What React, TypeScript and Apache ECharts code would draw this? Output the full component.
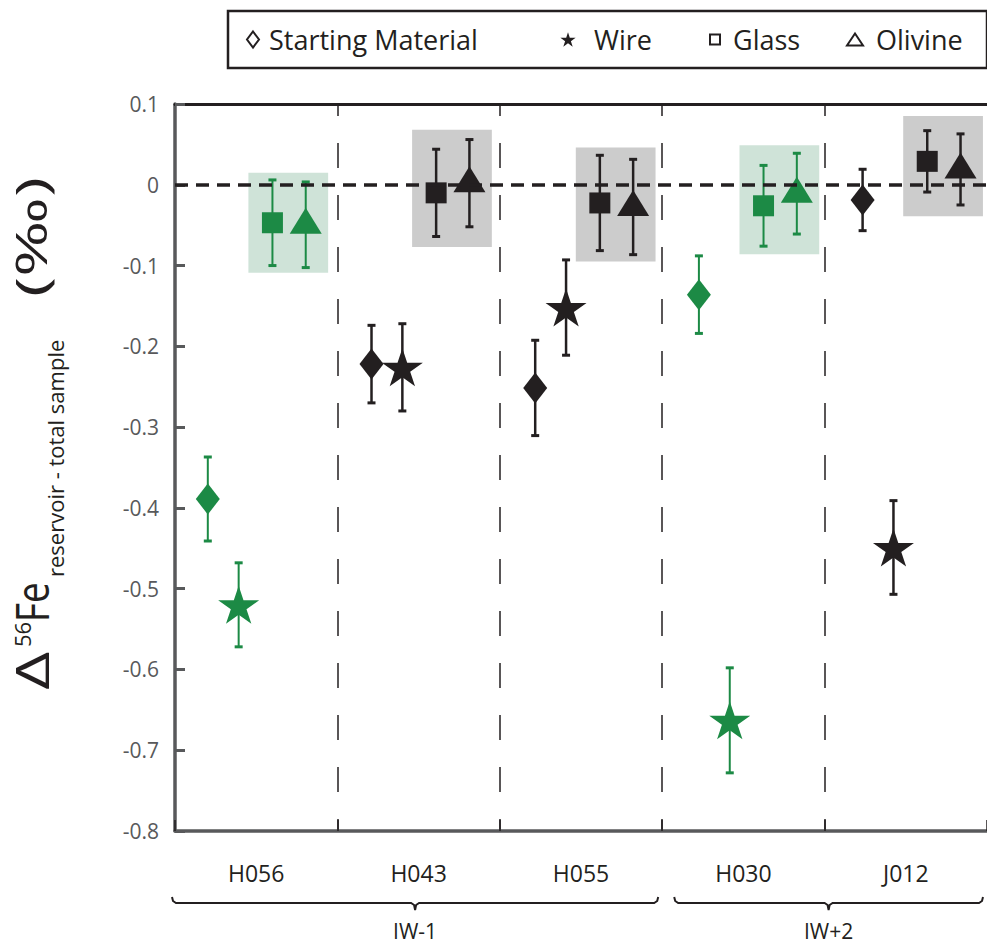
import React, { useEffect, useRef } from "react";
import * as echarts from "echarts";

// ---------------- data ----------------
const groups = ["H056", "H043", "H055", "H030", "J012"];
const groupIsGreen = [true, false, false, true, false];
const reservoirs = ["IW-1", "IW+2"];
const reservoirFirstGroup = [0, 3];
const reservoirLastGroup = [2, 4];

const startingMaterial = [-0.389, -0.222, -0.2515, -0.136, -0.0188];
const startingMaterialErr = [0.052, 0.048, 0.059, 0.048, 0.038];
const wire = [-0.52, -0.226, -0.152, -0.663, -0.449];
const wireErr = [0.052, 0.054, 0.059, 0.065, 0.058];
const glass = [-0.047, -0.01, -0.0225, -0.026, 0.029];
const glassErr = [0.053, 0.054, 0.059, 0.05, 0.038];
const olivine = [-0.0495, 0.002, -0.0275, -0.011, 0.019];
const olivineErr = [0.053, 0.054, 0.059, 0.05, 0.044];
const boxTop = [0.015, 0.068, 0.046, 0.049, 0.085];
const boxBottom = [-0.109, -0.077, -0.095, -0.086, -0.039];

const yMin = -0.8;
const yMax = 0.1;
const yStep = 0.1;

// ---------------- styles ----------------
const GREEN = "#1c8a45";
const BLACK = "#231f20";
const GREEN_BOX = "#cfe3d8";
const GRAY_BOX = "#cccccc";
const AXIS_GRAY = "#58595b";
const FONT = "'Open Sans', 'Noto Sans', sans-serif";

// horizontal slot of each marker inside a sample group (x-axis units)
const SLOT = { sm: 0.202, wire: 0.392, glass: 0.6, olivine: 0.805 };
const PITCH = 1.008;
const BOX_PAD_L = 0.148;
const BOX_PAD_R = 0.138;

const STAR =
  "path://M0,-1L0.2245,-0.309L0.951,-0.309L0.363,0.118L0.588,0.809L0,0.382L-0.588,0.809L-0.363,0.118L-0.951,-0.309L-0.2245,-0.309Z";

const LEG_PAD = "M-11,-8.5M11,8.5";
const LEG_DIAMOND = "path://" + LEG_PAD + "M0,-8L6,0L0,8L-6,0Z";
const LEG_STAR =
  "path://" +
  LEG_PAD +
  "M0,-7.3L1.8,-1.77L7.61,-1.77L2.9,1.64L4.7,7.17L0,3.76L-4.7,7.17L-2.9,1.64L-7.61,-1.77L-1.8,-1.77Z";
const LEG_SQUARE = "path://" + LEG_PAD + "M-5,-5L5,-5L5,5L-5,5Z";
const LEG_TRIANGLE = "path://" + LEG_PAD + "M0,-6L8,6L-8,6Z";

const xOf = (i: number, slot: number) => i * PITCH + slot;
const colorOf = (i: number) => (groupIsGreen[i] ? GREEN : BLACK);

function pointData(values: number[], slot: number) {
  return values.map((v, i) => ({
    value: [xOf(i, slot), v],
    itemStyle: { color: colorOf(i), opacity: 1 },
  }));
}

function errData(values: number[], errs: number[], slot: number) {
  return values.map((v, i) => [xOf(i, slot), v, errs[i], groupIsGreen[i] ? 1 : 0]);
}

export default function App() {
  const ref = useRef<HTMLDivElement>(null);

  useEffect(() => {
    if (!ref.current) return;
    const chart = echarts.init(ref.current, null, { renderer: "svg" });

    const errorBars = [
      ...errData(startingMaterial, startingMaterialErr, SLOT.sm),
      ...errData(wire, wireErr, SLOT.wire),
      ...errData(glass, glassErr, SLOT.glass),
      ...errData(olivine, olivineErr, SLOT.olivine),
    ];
    const boxes = groups.map((_, i) => [
      xOf(i, SLOT.glass) - BOX_PAD_L,
      xOf(i, SLOT.olivine) + BOX_PAD_R,
      boxTop[i],
      boxBottom[i],
      groupIsGreen[i] ? 1 : 0,
    ]);

    const legendText = { fontSize: 27, fontFamily: FONT, color: BLACK, lineHeight: 31, backgroundColor: "rgba(0,0,0,0)" };

    const scatterBase = {
      type: "scatter",
      xAxisIndex: 1,
      yAxisIndex: 0,
      z: 4,
      itemStyle: { opacity: 1 },
      emphasis: { disabled: true },
    };

    const option: any = {
      animation: false,
      backgroundColor: "#ffffff",
      textStyle: { fontFamily: FONT },
      grid: { left: 175, top: 104, width: 816.5, height: 727, containLabel: false },
      legend: {
        left: 228,
        top: 11,
        orient: "horizontal",
        selectedMode: false,
        itemWidth: 22,
        itemHeight: 17,
        itemGap: 10,
        padding: [13, 21, 13, 13],
        borderColor: BLACK,
        borderWidth: 2.5,
        backgroundColor: "#ffffff",
        textStyle: legendText,
        data: [
          {
            name: "Starting Material",
            icon: LEG_DIAMOND,
            itemStyle: { color: "rgba(0,0,0,0)", borderColor: BLACK, borderWidth: 2 },
            textStyle: { ...legendText, width: 278 },
          },
          {
            name: "Wire",
            icon: LEG_STAR,
            itemStyle: { color: BLACK, borderWidth: 0 },
            textStyle: { ...legendText, width: 99, padding: [0, 0, 0, 10] },
          },
          {
            name: "Glass",
            icon: LEG_SQUARE,
            itemStyle: { color: "rgba(0,0,0,0)", borderColor: BLACK, borderWidth: 2 },
            textStyle: { ...legendText, width: 100, padding: [0, 0, 0, 2] },
          },
          {
            name: "Olivine",
            icon: LEG_TRIANGLE,
            itemStyle: { color: "rgba(0,0,0,0)", borderColor: BLACK, borderWidth: 2 },
            textStyle: { ...legendText, width: 90, padding: [0, 0, 0, 5] },
          },
        ],
      },
      xAxis: [
        {
          type: "category",
          data: groups,
          position: "bottom",
          boundaryGap: true,
          axisLine: { show: true, onZero: false, lineStyle: { color: AXIS_GRAY, width: 3.5 } },
          axisTick: { show: true, inside: true, length: 11, lineStyle: { color: BLACK, width: 1.5 } },
          axisLabel: { fontSize: 23, fontFamily: FONT, color: BLACK, margin: 30 },
          splitLine: { show: false },
        },
        {
          type: "value",
          min: 0,
          max: 5,
          interval: 1,
          position: "top",
          axisLine: { show: true, onZero: false, lineStyle: { color: BLACK, width: 3 } },
          axisTick: { show: false },
          axisLabel: { show: false },
          splitLine: {
            show: true,
            showMinLine: false,
            showMaxLine: false,
            lineStyle: { color: BLACK, width: 1.5, type: [25, 27], dashOffset: 13 },
          },
        },
      ],
      yAxis: {
        type: "value",
        min: yMin,
        max: yMax,
        interval: yStep,
        axisLine: { show: true, onZero: false, lineStyle: { color: AXIS_GRAY, width: 3.5 } },
        axisTick: { show: true, inside: true, length: 10, lineStyle: { color: AXIS_GRAY, width: 3 } },
        axisLabel: { fontSize: 21, fontFamily: FONT, color: AXIS_GRAY, margin: 16 },
        splitLine: { show: false },
      },
      series: [
        {
          type: "custom",
          name: "boxes",
          xAxisIndex: 1,
          yAxisIndex: 0,
          z: 1,
          silent: true,
          encode: { x: [0, 1], y: [2, 3] },
          data: boxes,
          renderItem: (params: any, api: any) => {
            const p0 = api.coord([api.value(0), api.value(2)]);
            const p1 = api.coord([api.value(1), api.value(3)]);
            return {
              type: "rect",
              shape: { x: p0[0], y: p0[1], width: p1[0] - p0[0], height: p1[1] - p0[1] },
              style: { fill: api.value(4) ? GREEN_BOX : GRAY_BOX },
            };
          },
          markLine: {
            silent: true,
            symbol: ["none", "none"],
            label: { show: false },
            lineStyle: { color: BLACK, width: 3.5, type: [13, 8] },
            data: [{ yAxis: 0 }],
          },
        },
        {
          type: "custom",
          name: "errors",
          xAxisIndex: 1,
          yAxisIndex: 0,
          z: 2,
          silent: true,
          encode: { x: 0, y: 1 },
          data: errorBars,
          renderItem: (params: any, api: any) => {
            const x = api.value(0);
            const y = api.value(1);
            const e = api.value(2);
            const g = api.value(3);
            const top = api.coord([x, y + e]);
            const bot = api.coord([x, y - e]);
            const color = g ? GREEN : BLACK;
            const lw = g ? 2 : 2.5;
            const cw = 4;
            return {
              type: "group",
              children: [
                { type: "line", shape: { x1: top[0], y1: top[1], x2: bot[0], y2: bot[1] }, style: { stroke: color, lineWidth: lw } },
                { type: "line", shape: { x1: top[0] - cw, y1: top[1], x2: top[0] + cw, y2: top[1] }, style: { stroke: color, lineWidth: 3 } },
                { type: "line", shape: { x1: bot[0] - cw, y1: bot[1], x2: bot[0] + cw, y2: bot[1] }, style: { stroke: color, lineWidth: 3 } },
              ],
            };
          },
        },
        {
          ...scatterBase,
          name: "Starting Material",
          symbol: "diamond",
          symbolSize: [24, 31],
          data: pointData(startingMaterial, SLOT.sm),
        },
        {
          ...scatterBase,
          name: "Wire",
          symbol: STAR,
          symbolSize: [41, 38],
          data: pointData(wire, SLOT.wire),
        },
        {
          ...scatterBase,
          name: "Glass",
          symbol: "rect",
          symbolSize: [21, 21],
          data: pointData(glass, SLOT.glass),
        },
        {
          ...scatterBase,
          name: "Olivine",
          symbol: "triangle",
          symbolSize: [32, 26],
          symbolOffset: [0, -4],
          data: pointData(olivine, SLOT.olivine),
        },
      ],
    };

    chart.setOption(option);

    // annotations: axis title and reservoir brackets
    const px = (v: number) => chart.convertToPixel({ xAxisIndex: 1 }, v) as number;
    const yLine = 903;
    const brackets: any[] = [];
    reservoirs.forEach((name, k) => {
      const a = reservoirFirstGroup[k];
      const b = reservoirLastGroup[k] + 1;
      const x0 = px(a) + (a === 0 ? -3 : 12);
      const x1 = px(b) - 4;
      const cx = (x0 + x1) / 2;
      brackets.push({
        type: "polyline",
        silent: true,
        shape: {
          points: [
            [x0, yLine - 6],
            [x0 + 1, yLine - 2],
            [x0 + 4, yLine],
            [cx - 4, yLine],
            [cx - 1, yLine + 2],
            [cx, yLine + 7],
            [cx + 1, yLine + 2],
            [cx + 4, yLine],
            [x1 - 4, yLine],
            [x1 - 1, yLine - 2],
            [x1, yLine - 6],
          ],
        },
        style: { stroke: BLACK, lineWidth: 2, fill: null },
      });
      brackets.push({
        type: "text",
        silent: true,
        x: cx,
        y: 931,
        style: {
          text: name,
          fontSize: 21,
          lineHeight: 20,
          fontFamily: FONT,
          fill: BLACK,
          align: "center",
          verticalAlign: "middle",
        },
      });
    });

    const tStyle = (text: string, fontSize: number, family = FONT) => ({
      text,
      fontSize,
      fontFamily: family,
      fill: BLACK,
      align: "left",
      verticalAlign: "middle",
    });

    const title = {
      type: "group",
      x: 47,
      y: 690,
      rotation: Math.PI / 2,
      silent: true,
      children: [
        { type: "text", x: 0, y: -15, scaleX: 1.48, style: tStyle("Δ", 45) },
        { type: "text", x: 43, y: -25, style: tStyle("56", 22) },
        { type: "text", x: 68, y: -15, scaleX: 0.82, style: tStyle("Fe", 45) },
        { type: "text", x: 113, y: 8, style: tStyle("reservoir - total sample", 22) },
        { type: "text", x: 393, y: -17, scaleX: 1.55, style: tStyle("(‰)", 44) },
      ],
    };

    chart.setOption({ graphic: [title, ...brackets] });

    return () => chart.dispose();
  }, []);

  return (
    <div
      ref={ref}
      style={{ position: "fixed", left: 0, top: 0, width: 987, height: 947, background: "#fff" }}
    />
  );
}
